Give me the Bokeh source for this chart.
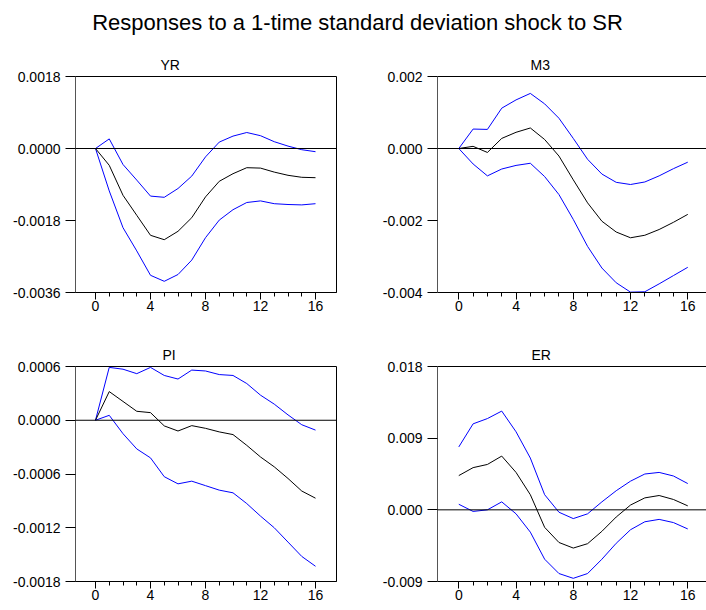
from bokeh.plotting import figure
from bokeh.models import FixedTicker, PrintfTickFormatter, Span, LinearAxis, Title, Range1d, Label
from bokeh.layouts import column, row
from bokeh.embed import file_html
from bokeh.resources import INLINE

steps = list(range(17))
x_ticks = [0, 4, 8, 12, 16]

main_title = "Responses to a 1-time standard deviation shock to SR"

yr_resp = [0.0, -0.00042, -0.00117, -0.00167, -0.00217, -0.00228, -0.00207, -0.00173, -0.00121,
           -0.00082, -0.00063, -0.00048, -0.00049, -0.00059, -0.00067, -0.00072, -0.00073]
yr_upper = [0.0, 0.00024, -0.00040, -0.00079, -0.00119, -0.00122, -0.00100, -0.00069, -0.00021,
            0.00016, 0.00031, 0.00040, 0.00032, 0.00017, 0.00006, -0.00003, -0.00008]
yr_lower = [0.0, -0.00106, -0.00198, -0.00256, -0.00317, -0.00332, -0.00315, -0.00279, -0.00223,
            -0.00179, -0.00153, -0.00135, -0.00131, -0.00138, -0.00140, -0.00141, -0.00138]
yr_ticks = [-0.0036, -0.0018, 0.0, 0.0018]

m3_resp = [0.0, 0.00006, -0.00011, 0.00028, 0.00045, 0.00057, 0.00025, -0.00021, -0.00087,
           -0.00151, -0.00202, -0.00232, -0.00248, -0.00241, -0.00225, -0.00205, -0.00183]
m3_upper = [0.0, 0.00054, 0.00053, 0.00112, 0.00135, 0.00153, 0.00124, 0.00084, 0.00028,
            -0.00030, -0.00071, -0.00094, -0.00100, -0.00093, -0.00076, -0.00056, -0.00038]
m3_lower = [0.0, -0.00043, -0.00076, -0.00057, -0.00047, -0.00041, -0.00078, -0.00128, -0.00197,
            -0.00272, -0.00332, -0.00373, -0.00399, -0.00398, -0.00376, -0.00353, -0.00330]
m3_ticks = [-0.004, -0.002, 0.0, 0.002]

pi_resp = [0.0, 0.00032, 0.00021, 0.00010, 0.000085, -0.000063, -0.00012, -0.00006, -0.00009,
           -0.00013, -0.00016, -0.00028, -0.00041, -0.00052, -0.00065, -0.00079, -0.00087]
pi_upper = [0.0, 0.00059, 0.00057, 0.00052, 0.00059, 0.00050, 0.00046, 0.00056, 0.00055,
            0.00051, 0.00050, 0.00041, 0.00028, 0.00018, 0.00006, -0.00005, -0.00011]
pi_lower = [0.0, 0.000055, -0.00015, -0.00032, -0.00042, -0.00063, -0.00071, -0.00068, -0.00073,
            -0.00078, -0.00081, -0.00093, -0.00107, -0.00120, -0.00136, -0.00152, -0.00163]
pi_ticks = [-0.0018, -0.0012, -0.0006, 0.0, 0.0006]

er_resp = [0.0043, 0.0053, 0.0057, 0.00675, 0.0047, 0.0019, -0.0022, -0.0041, -0.0048,
           -0.00425, -0.0027, -0.0009, 0.0006, 0.0015, 0.0018, 0.0013, 0.0005]
er_upper = [0.0079, 0.0108, 0.01146, 0.0124, 0.0098, 0.0065, 0.0019, -0.0003, -0.0011,
            -0.0005, 0.0010, 0.0024, 0.0036, 0.0045, 0.0047, 0.00425, 0.0033]
er_lower = [0.0007, -0.0002, 0.0, 0.0010, -0.0005, -0.0028, -0.0062, -0.0080, -0.0086,
            -0.0080, -0.0062, -0.0042, -0.0025, -0.0015, -0.0012, -0.0016, -0.0024]
er_ticks = [-0.009, 0.0, 0.009, 0.018]

FONT = "Liberation Sans"


def panel(name, resp, upper, lower, yticks, fmt, left_col, top_row, title_offset):
    if left_col:
        width, mbl, mbr = 353, 75, 17
        xr = Range1d(-1.4545, 17.527)
    else:
        width, mbl, mbr = 353, 84, 0
        xr = Range1d(-1.488, 17.31)
    if top_row:
        height, mbt, mbb = 294, 32, 46
    else:
        height, mbt, mbb = 264, 28, 20
    p = figure(width=width, height=height, toolbar_location=None, output_backend="svg",
               x_range=xr, y_range=Range1d(yticks[0], yticks[-1]),
               min_border_left=mbl, min_border_right=mbr, min_border_top=mbt,
               min_border_bottom=mbb, x_axis_location="below", y_axis_location="left")
    p.title = Title(text=name, align="left", offset=title_offset, text_font_size="14px",
                    text_font_style="normal", text_font=FONT, text_color="black", standoff=8)
    p.grid.visible = False
    p.background_fill_color = "white"
    p.border_fill_color = "white"

    xa = p.below[0]
    xa.ticker = FixedTicker(ticks=x_ticks, minor_ticks=steps)
    xa.major_tick_out = 7
    xa.major_tick_in = 0
    xa.minor_tick_out = 4
    xa.minor_tick_in = 0
    xa.major_label_standoff = 1
    xa.major_label_text_font = FONT
    xa.major_label_text_font_size = "14px"
    xa.major_label_text_color = "black"
    xa.axis_line_color = "black"

    ya = p.left[0]
    ya.ticker = FixedTicker(ticks=yticks, minor_ticks=[])
    ya.formatter = PrintfTickFormatter(format=fmt)
    ya.major_tick_out = 10
    ya.major_tick_in = 0
    ya.minor_tick_out = 0
    ya.minor_tick_in = 0
    ya.major_label_standoff = 5
    ya.major_label_text_font = FONT
    ya.major_label_text_font_size = "14px"
    ya.major_label_text_color = "black"
    ya.axis_line_color = "#555555"

    if left_col:
        p.outline_line_color = "black"
        p.outline_line_width = 1
    else:
        p.outline_line_color = None
        top = LinearAxis(ticker=FixedTicker(ticks=[], minor_ticks=[]), major_tick_out=0,
                         major_tick_in=0, minor_tick_out=0, minor_tick_in=0,
                         major_label_standoff=0, axis_line_color="black",
                         major_label_text_font_size="0px")
        p.add_layout(top, "above")

    p.add_layout(Span(location=0, dimension="width", line_color="black", line_width=1))
    p.line(steps, upper, line_color="#0000ff", line_width=1)
    p.line(steps, lower, line_color="#0000ff", line_width=1)
    p.line(steps, resp, line_color="black", line_width=1)
    return p


t = figure(width=706, height=44, toolbar_location=None, output_backend="svg",
           x_axis_location=None, y_axis_location=None, min_border=0,
           x_range=Range1d(0, 706), y_range=Range1d(0, 44))
t.outline_line_color = None
t.grid.visible = False
t.add_layout(Label(x=357, y=22, text=main_title, text_align="center", text_baseline="middle",
                   text_font_size="22px", text_font=FONT, text_color="black"))

p1 = panel("YR", yr_resp, yr_upper, yr_lower, yr_ticks, "%.4f", True, True, 85)
p2 = panel("M3", m3_resp, m3_upper, m3_lower, m3_ticks, "%.3f", False, True, 93)
p3 = panel("PI", pi_resp, pi_upper, pi_lower, pi_ticks, "%.4f", True, False, 87)
p4 = panel("ER", er_resp, er_upper, er_lower, er_ticks, "%.3f", False, False, 94)

layout = column(t, row(p1, p2), row(p3, p4))
open("out.html", "w").write(file_html(layout, INLINE))
